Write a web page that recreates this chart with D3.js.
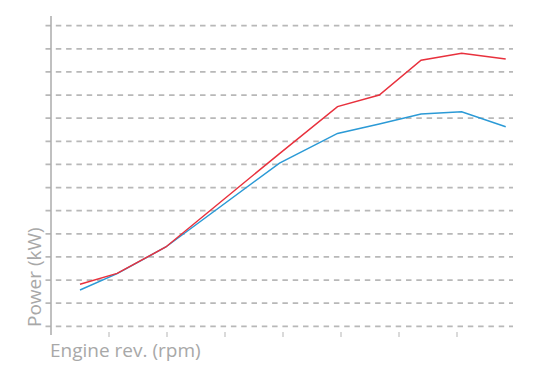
<!DOCTYPE html>
<html>
<head>
<meta charset="utf-8">
<script src="https://cdn.jsdelivr.net/npm/d3@7"></script>
<style>
  body { margin: 0; background: #fff; }
  svg { display: block; }
</style>
</head>
<body>
<svg id="chart" width="540" height="381"></svg>
<script>
// データ（画像から読み取った推定値）
const rpm = [250, 570, 990, 1970, 2470, 2830, 3190, 3540, 3920];
const powerRed = [18.2, 22.9, 34.3, 74.7, 95.0, 100.0, 115.1, 118.1, 115.6];
const powerBlue = [15.7, 22.8, 34.3, 70.6, 83.4, 87.5, 91.8, 92.8, 86.3];
const xTicks = [500, 1000, 1500, 2000, 2500, 3000, 3500];
const yTicks = d3.range(0, 131, 10);

const svg = d3.select("#chart");

const x = d3.scaleLinear().domain([0, 4000]).range([51, 515]);
const y = d3.scaleLinear().domain([0, 130]).range([326.3, 25.7]);

// 横の破線グリッド
svg.append("g")
    .selectAll("line")
    .data(yTicks)
    .join("line")
    .attr("x1", 45.5)
    .attr("x2", 513)
    .attr("y1", d => y(d))
    .attr("y2", d => y(d))
    .style("stroke", "#b8b8b8")
    .style("stroke-width", 1.7)
    .style("stroke-dasharray", "5.5,4.8");

// 縦軸
svg.append("line")
    .attr("x1", 51).attr("x2", 51)
    .attr("y1", 16).attr("y2", 335)
    .style("stroke", "#ababab")
    .style("stroke-width", 1.5);

// 横軸の目盛り
svg.append("g")
    .selectAll("line")
    .data(xTicks)
    .join("line")
    .attr("x1", d => x(d))
    .attr("x2", d => x(d))
    .attr("y1", 332)
    .attr("y2", 337)
    .style("stroke", "#b5b5b5")
    .style("stroke-width", 1);

// 折れ線
const line = d3.line()
    .x((d, i) => x(rpm[i]))
    .y(d => y(d));

svg.append("path")
    .datum(powerBlue)
    .attr("d", line)
    .style("fill", "none")
    .style("stroke", "#2b9ad6")
    .style("stroke-width", 1.5);

svg.append("path")
    .datum(powerRed)
    .attr("d", line)
    .style("fill", "none")
    .style("stroke", "#e8313d")
    .style("stroke-width", 1.5);

// 軸ラベル
svg.append("text")
    .attr("transform", "translate(41,327) rotate(-90)")
    .style("font-family", "'Open Sans', sans-serif")
    .style("font-size", "19px")
    .style("fill", "#a8a8a8")
    .text("Power (kW)");

svg.append("text")
    .attr("x", 50)
    .attr("y", 357)
    .style("font-family", "'Open Sans', sans-serif")
    .style("font-size", "19px")
    .style("fill", "#a8a8a8")
    .text("Engine rev. (rpm)");
</script>
</body>
</html>
